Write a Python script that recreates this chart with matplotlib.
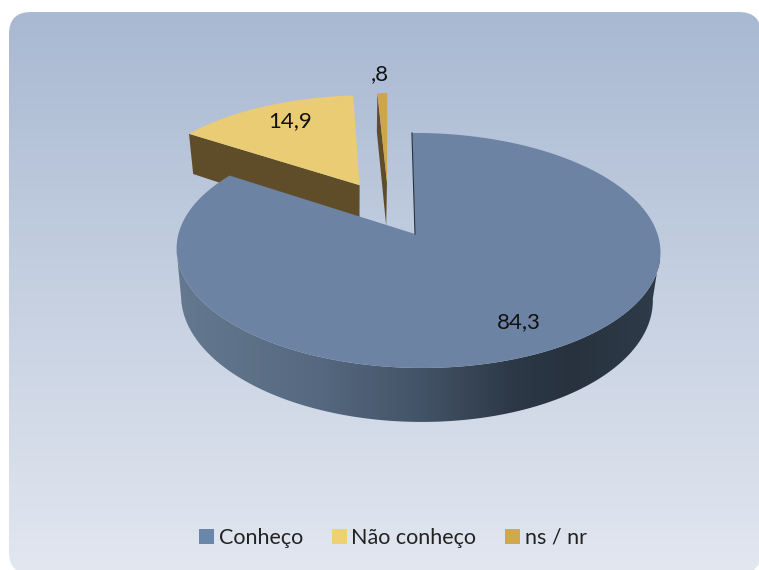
import numpy as np
import matplotlib
matplotlib.use("Agg")
import matplotlib.pyplot as plt
from matplotlib.colors import LinearSegmentedColormap
from matplotlib.patches import FancyBboxPatch, Polygon, Patch

# data
labels = ["Conheço", "Não conheço", "ns / nr"]
values = [84.3, 14.9, 0.8]
value_text = ["84,3", "14,9", ",8"]

top_colors = ["#6c83a4", "#e9cc73", "#cfa44e"]
legend_colors = ["#6a86a8", "#f0d074", "#cfa850"]
wall_colors = ["#4a5b70", "#5f4d2a", "#5f4d2a"]

plt.rcParams["font.family"] = ["Lato", "DejaVu Sans"]

fig = plt.figure(figsize=(7.59, 5.70), dpi=100, facecolor="white")
ax = fig.add_axes([0, 0, 1, 1])
ax.set_xlim(0, 759)
ax.set_ylim(570, 0)
ax.axis("off")

# background with rounded corners
bg_cmap = LinearSegmentedColormap.from_list("bg", ["#a9b9d2", "#e2e7f0"])
bg = ax.imshow(np.linspace(0, 1, 256)[:, None], cmap=bg_cmap, extent=(9, 759, 572, 12),
               aspect="auto", zorder=1)
box = FancyBboxPatch((9, 12), 752, 562, boxstyle="round,pad=0,rounding_size=22",
                     fc="none", ec="none", transform=ax.transData)
ax.add_patch(box)
bg.set_clip_path(box)


# perspective projection of the pie disc
def proj(u, v, z=0.0):
    d = 1 + 0.14 * v - 0.0124 * u
    x = (239.5 * u - 3.5 * v) / d
    y = 115.2 * v / d
    if z:
        return 413.5 + x * 0.975, 234 - y + z / d
    return 415 + x, 234 - y


depth = 46.4
shift = [(0, 0), (-0.24, 0.452), (-0.118, 0.478)]
angles = np.radians(np.cumsum([0] + values) / sum(values) * 360)


def wedge_top(i):
    t = np.linspace(angles[i], angles[i + 1], 200)
    du, dv = shift[i]
    x, y = proj(np.sin(t) + du, np.cos(t) + dv)
    ax_, ay = proj(du, dv)
    return np.column_stack([np.r_[ax_, x], np.r_[ay, y]])


def cut_face(i):
    # flat side of the slice, along its first edge
    du, dv = shift[i]
    t = angles[i]
    us = np.array([du, np.sin(t) + du])
    vs = np.array([dv, np.cos(t) + dv])
    xt, yt = proj(us, vs)
    xb, yb = proj(us, vs, depth)
    return np.column_stack([np.r_[xt, xb[::-1]], np.r_[yt, yb[::-1]]])


# small slices behind the big one
for i in [2, 1]:
    ax.add_patch(Polygon(cut_face(i), fc=wall_colors[i], ec="none", zorder=3))
    ax.add_patch(Polygon(wedge_top(i), fc=top_colors[i], ec="none", zorder=4))

# outer wall of the big slice, shaded from left to right
t = np.radians(np.linspace(98, 262, 300))
xt, yt = proj(np.sin(t), np.cos(t))
xb, yb = proj(np.sin(t), np.cos(t), depth)
wall = Polygon(np.column_stack([np.r_[xt, xb[::-1]], np.r_[yt, yb[::-1]]]),
               fc="none", ec="none", zorder=5)
ax.add_patch(wall)
wall_cmap = LinearSegmentedColormap.from_list(
    "wall", [(0, "#64798f"), (0.3, "#55687f"), (0.5, "#445468"), (0.7, "#2c3846"),
             (0.82, "#28323f"), (1, "#2f3b49")])
shade = ax.imshow(np.linspace(0, 1, 256)[None, :], cmap=wall_cmap, extent=(176, 660, 430, 240),
                  aspect="auto", zorder=5)
shade.set_clip_path(wall)

ax.add_patch(Polygon(wedge_top(0), fc=top_colors[0], ec="none", zorder=6))
ex, ey = proj(np.array([0, 0]), np.array([0, 1]))
ax.plot(ex, ey, color="#2a3340", lw=0.8, zorder=7)

ax.set_xlim(0, 759)
ax.set_ylim(570, 0)

# value labels
ax.text(519, 322, value_text[0], ha="center", va="center", fontsize=16, color="#111111", zorder=8)
ax.text(290, 121, value_text[1], ha="center", va="center", fontsize=16, color="#111111", zorder=8)
ax.text(380, 74, value_text[2], ha="center", va="center", fontsize=16, color="#111111", zorder=8)

handles = [Patch(fc=c, ec="none") for c in legend_colors]
ax.legend(handles, labels, loc="center", bbox_to_anchor=(393, 538), bbox_transform=ax.transData,
          ncol=3, frameon=False, fontsize=15.5, handlelength=0.7, handleheight=0.7,
          handletextpad=0.2, columnspacing=1.35, labelcolor="#222222", borderpad=0)

fig.savefig("out.png", dpi=100)
